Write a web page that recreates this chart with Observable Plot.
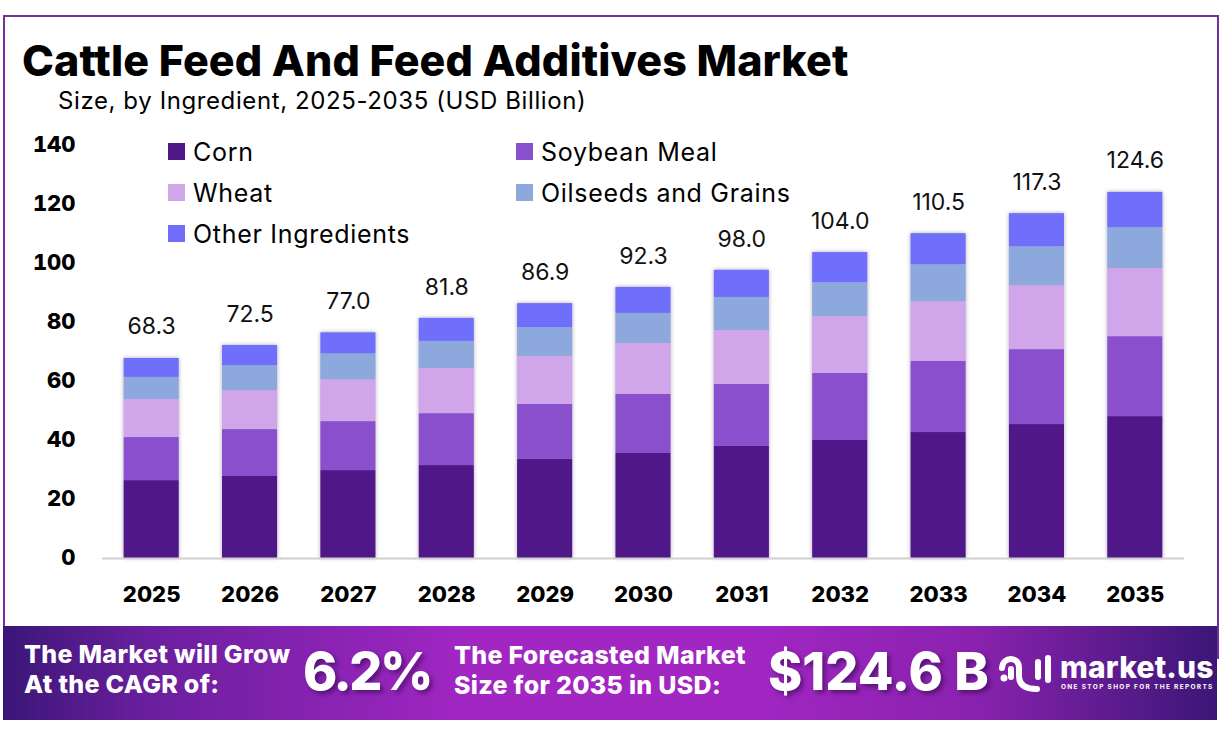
<!DOCTYPE html>
<html><head><meta charset="utf-8">
<script src="https://cdn.jsdelivr.net/npm/d3@7"></script>
<script src="https://cdn.jsdelivr.net/npm/@observablehq/plot@0.6"></script>
<style>
html,body{margin:0;padding:0;background:#fff;width:1220px;height:737px;overflow:hidden;font-family:Inter,sans-serif;color:#000}
.frame{position:absolute;left:3px;top:15px;width:1212px;height:640px;border:2px solid #71309b;box-sizing:content-box}
h1{position:absolute;left:22px;top:35px;margin:0;font-size:43px;line-height:50px;font-weight:800;white-space:nowrap;letter-spacing:.1px}
.sub{position:absolute;left:58px;top:86px;font-size:24px;line-height:30px;font-weight:400;white-space:nowrap;letter-spacing:.6px}
#chart{position:absolute;left:0;top:125px}
.bars{filter:drop-shadow(0 0 2px rgba(60,40,90,.4))}
.legend{position:absolute;left:168px;top:131px;display:grid;grid-template-columns:348px 348px;grid-auto-rows:41px;font-size:25px;letter-spacing:.7px}
.legend div{display:flex;align-items:center;white-space:nowrap}
.legend i{display:inline-block;width:17px;height:17px;margin-right:8px}
.banner{position:absolute;left:3px;top:626px;width:1214px;height:94px;color:#fff;
background:linear-gradient(90deg,#3b1677 0%,#6a1f9e 12%,#a126c2 38%,#a126c2 62%,#8a22ae 80%,#3b1677 100%)}
.banner span{position:absolute;white-space:nowrap;font-weight:800}
.t{font-size:25px;line-height:30px;letter-spacing:.3px}
.big{font-size:52px;line-height:60px;text-shadow:3px 3px 4px rgba(40,10,70,.55)}
</style></head><body>
<div class="frame"></div>
<h1>Cattle Feed And Feed Additives Market</h1>
<div class="sub">Size, by Ingredient, 2025-2035 (USD Billion)</div>
<div id="chart"></div>
<div class="legend" id="legend"></div>
<div class="banner">
<span class="t" style="left:21px;top:13px">The Market will Grow<br>At the CAGR of:</span>
<span class="big" style="left:300px;top:16px;letter-spacing:-2.5px">6.2%</span>
<span class="t" style="left:451px;top:14px">The Forecasted Market<br>Size for 2035 in USD:</span>
<span class="big" style="left:765px;top:16px">$124.6 B</span>
<svg style="position:absolute;left:990px;top:24px" width="62" height="46" viewBox="0 0 62 46" fill="none" stroke="#fff" stroke-width="6" stroke-linecap="round">
<circle cx="11" cy="28" r="3.5" fill="#fff" stroke="none"/>
<path d="M9 18C10 6 26 6 26 18V26C26 36 34 39 44 39"/><path d="M18 19V27"/><path d="M45 12V27"/><path d="M55 8V30"/>
</svg>
<span style="left:1057px;top:27.5px;font-size:30px;line-height:26px;letter-spacing:.2px">market.us</span>
<span style="left:1058px;top:58px;font-size:6.5px;line-height:7px;letter-spacing:1.33px;font-weight:700">ONE STOP SHOP FOR THE REPORTS</span>
</div>
<script>
const years = ["2025","2026","2027","2028","2029","2030","2031","2032","2033","2034","2035"];
const totals = [68.3,72.5,77.0,81.8,86.9,92.3,98.0,104.0,110.5,117.3,124.6];
const ingredients = ["Corn","Soybean Meal","Wheat","Oilseeds and Grains","Other Ingredients"];
const colors = ["#4f1787","#8a4fcc","#d0a5ea","#8da8dc","#6f6ffb"];
const corn = [26.4,27.8,29.8,31.5,33.6,35.6,38.0,40.0,42.7,45.4,48.1];
const soybean = [14.6,15.9,16.6,17.6,18.6,20.0,21.0,22.7,24.1,25.4,27.1];
const wheat = [12.9,13.2,14.2,15.3,16.3,17.3,18.3,19.3,20.3,21.7,23.1];
const oilseeds = [7.5,8.5,8.8,9.2,9.8,10.2,11.2,11.5,12.5,13.2,13.9];
const other = [6.4,6.8,7.1,7.8,8.1,8.8,9.2,10.2,10.5,11.2,11.9];
const yTicks = [0,20,40,60,80,100,120,140];

const series = [corn,soybean,wheat,oilseeds,other];
const rows = series.flatMap((vals,i)=>vals.map((v,j)=>({year:years[j],ingredient:ingredients[i],value:v})));
const totalRows = years.map((y,i)=>({year:y,total:totals[i]}));

const plot = Plot.plot({
  width:1220,height:500,
  marginLeft:102,marginRight:36,marginTop:20,marginBottom:67,
  style:{fontFamily:"Inter,sans-serif",background:"transparent",color:"#000",overflow:"visible"},
  x:{domain:years,paddingInner:0.44,paddingOuter:0.22,round:false,label:null},
  y:{domain:[0,140],label:null},
  color:{domain:ingredients,range:colors},
  marks:[
    Plot.barY(rows,{x:"year",y:"value",fill:"ingredient",order:ingredients,className:"bars"}),
    Plot.ruleY([0],{stroke:"#cfcfcf",strokeWidth:2}),
    Plot.text(totalRows,{x:"year",y:"total",text:d=>d.total.toFixed(1),dy:-30,fontSize:23,fill:"#111"}),
    Plot.axisX({tickSize:0,tickPadding:28,fontSize:22,fontWeight:800,label:null,fill:"#000"}),
    Plot.axisY({ticks:yTicks,tickSize:0,tickPadding:27,fontSize:22,fontWeight:800,label:null,dy:-1,fill:"#000"})
  ]
});
document.getElementById("chart").append(plot);
const lg=document.getElementById("legend");
ingredients.forEach((n,i)=>{
  const d=document.createElement("div");
  const s=document.createElement("i"); s.style.background=colors[i];
  d.append(s,document.createTextNode(n)); lg.append(d);
});
</script>
</body></html>
